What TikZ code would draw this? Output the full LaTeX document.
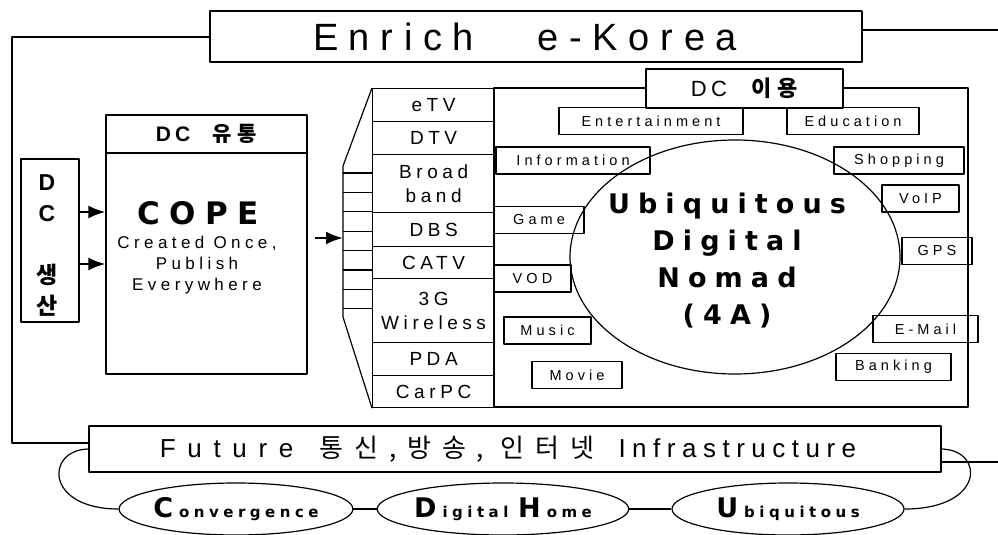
\documentclass[tikz,border=0pt]{standalone}
\usepackage{fontspec}
\setmainfont{Liberation Sans}
\newfontfamily\kr{Noto Sans CJK KR}
\newfontfamily\heavy{DejaVu Sans}
\usetikzlibrary{shapes.geometric,arrows.meta}

\tikzset{
  box/.style={draw, rectangle, inner sep=0pt, align=center},
  media/.style={box, minimum width=122pt, anchor=north west,
    font=\fontsize{19}{24}\selectfont\addfontfeature{LetterSpace=24}},
  tag/.style={box, minimum height=27pt,
    font=\fontsize{14.5}{16}\selectfont\addfontfeature{LetterSpace=28}},
  oval/.style={draw, ellipse, inner sep=0pt},
  ovaltxt/.style={oval, minimum height=52pt,
    font=\heavy\fontsize{15}{17}\selectfont\bfseries\addfontfeature{LetterSpace=30}},
  arr/.style={-{Latex[length=17pt,width=13pt]}, line width=2.2pt},
}
\newcommand{\capit}[1]{{\fontsize{27}{30}\selectfont #1}\hspace{6pt}}

\begin{document}
\begin{tikzpicture}[x=1pt, y=-1pt, line width=1.2pt, line join=round]

  \useasboundingbox (0,0) rectangle (998,535);

  % ---- Title and outer frame ----
  \node[box, minimum width=652pt, minimum height=51pt,
    font=\fontsize{38}{40}\selectfont\addfontfeature{LetterSpace=28}]
    (title) at (536,36.5) {Enrich\hspace{64pt}e-Korea\hspace*{22pt}};
  \node[box, minimum width=852pt, minimum height=46pt,
    font=\fontsize{26}{28}\selectfont\addfontfeature{LetterSpace=25}]
    (future) at (515,449)
    {{\addfontfeature{LetterSpace=45}Future}\hspace*{26pt}{\kr\addfontfeature{LetterSpace=42}통신,방송, 인터넷}\hspace*{24pt}Infrastructure\hspace*{14pt}};

  \coordinate (frameTL) at (12,37);
  \coordinate (frameBL) at (12,443);
  \coordinate (frameTR) at (998,30);
  \coordinate (frameBR) at (998,462);
  \draw (title.west |- frameTL) -- (frameTL) -- (frameBL) -- (frameBL -| future.west);
  \draw (title.east |- frameTR) -- (frameTR);
  \draw (future.east |- frameBR) -- (frameBR);

  % ---- DC 생산 ----
  \node[box, minimum width=58pt, minimum height=163pt] (make) at (50,240.5) {};
  \node[align=center, font=\fontsize{23}{31}\selectfont\bfseries]
    (makelbl) at (47,246) {D\\C\\[31pt]{\kr\bfseries 생}\\{\kr\bfseries 산}};

  % ---- DC 유통 : COPE ----
  \node[box, minimum width=201pt, minimum height=38pt,
    font=\fontsize{21}{24}\selectfont\bfseries\addfontfeature{LetterSpace=20}]
    (copehead) at (206.5,134) {DC\hspace{22pt}{\kr\bfseries\addfontfeature{LetterSpace=30}유통}};
  \node[box, minimum width=201pt, minimum height=221pt] (copebody) at (206.5,263.5) {};
  \node[font=\heavy\fontsize{31}{36}\selectfont\bfseries\addfontfeature{LetterSpace=30}]
    (copeword) at (198,213) {COPE};
  \node[align=center, font=\fontsize{17}{21}\selectfont\addfontfeature{LetterSpace=26}]
    (copesub) at (197,265) {Created Once,\\Publish\\Everywhere};

  \draw[arr] ([yshift=28.5pt]make.east) -- ([yshift=28.5pt]make.east -| copebody.west);
  \draw[arr] ([yshift=-23.5pt]make.east) -- ([yshift=-23.5pt]make.east -| copebody.west);

  % ---- Media column ----
  \foreach \nm/\top/\h/\txt in {etv/88/33/eTV, dtv/121/33/DTV, bb/154/58/{Broad\\band},
      dbs/212/34/DBS, catv/246/32/CATV, wl/278/64/{3G\\Wireless}, pda/342/33/PDA,
      carpc/375/32/CarPC}
    \node[media, minimum height=\h pt] (\nm) at (372,\top) {\txt};

  % fan into the media column
  \coordinate (fantop) at (343,166);
  \coordinate (fanbot) at (343,317);
  \draw (etv.north west) -- (fantop) -- (fanbot) -- (carpc.south west);
  \foreach \i in {0,...,7}
    \draw (343,173+19.4*\i) -- (372,173+19.4*\i);

  \coordinate (copeout) at (315,238);
  \draw[arr] (copeout) -- (copeout -| fantop);

  % ---- DC 이용 ----
  \node[box, minimum width=474pt, minimum height=319pt] (usebox) at (731,247.5) {};
  \node[box, fill=white, minimum width=197pt, minimum height=39pt,
    font=\fontsize{22}{24}\selectfont\addfontfeature{LetterSpace=20}]
    (usehead) at (744.5,88.5) {DC\hspace{24pt}{\kr\bfseries\addfontfeature{LetterSpace=30}이용}};

  \node[oval, minimum width=330pt, minimum height=234pt] (nomad) at (735,257) {};
  \node[align=center, font=\heavy\fontsize{27}{37}\selectfont\bfseries\addfontfeature{LetterSpace=30}]
    (nomadtxt) at (727,261) {Ubiquitous\\Digital\\Nomad\\(4A)};

  \foreach \nm/\cx/\cy/\w/\txt in {ent/651/121/184/Entertainment, edu/853/121/132/Education,
      info/573/160.5/154/Information, shop/899/160.5/130/Shopping,
      voip/920.5/198.5/77/VoIP, game/539/220/90/Game, gps/937/251/70/GPS,
      vod/532.5/278.5/77/VOD, music/547.5/330.5/87/Music, mail/925.5/329/105/E-Mail,
      movie/577/375/90/Movie, bank/893.5/367/115/Banking}
    \node[tag, minimum width=\w pt] (\nm) at (\cx,\cy) {\txt};

  % ---- Convergence / Digital Home / Ubiquitous ----
  \node[ovaltxt, minimum width=214pt] (conv) at (236,509) {\capit{C}onvergence};
  \node[ovaltxt, minimum width=210pt] (dhome) at (503,509) {\capit{D}igital \capit{H}ome};
  \node[ovaltxt, minimum width=232pt] (ubiq) at (788,509) {\capit{U}biquitous};

  \draw (conv.east) -- (dhome.west);
  \draw (dhome.east) -- (ubiq.west);
  \draw (future.west) .. controls (45,450) and (45,509) .. (conv.west);
  \draw (future.east) .. controls (985,450) and (985,509) .. (ubiq.east);

\end{tikzpicture}
\end{document}
